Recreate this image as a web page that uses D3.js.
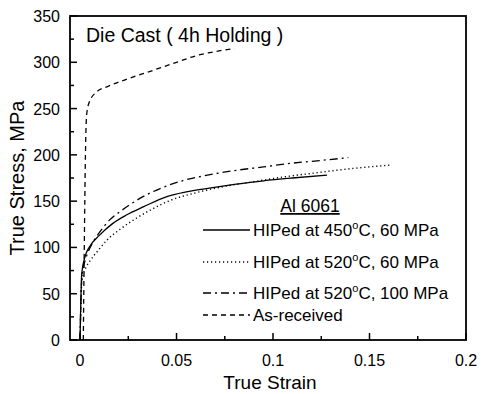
<!DOCTYPE html>
<html>
<head>
<meta charset="utf-8">
<script src="https://cdn.jsdelivr.net/npm/d3@7"></script>
<style>
  body { margin: 0; background: #fff; }
  text { font-family: "Liberation Sans", Arial, sans-serif; fill: #000; }
</style>
</head>
<body>
<div id="vis"></div>
<script>
// curve data (true strain, true stress in MPa)
const strain450 = [0, 0.0009, 0.0026, 0.005, 0.010, 0.017, 0.024, 0.033, 0.045, 0.055, 0.067, 0.080, 0.095, 0.110, 0.128]
const stress450 = [0, 72, 90, 101, 113, 126, 135, 144, 155, 160, 164, 168, 172, 175, 178]

const strain520a = [0, 0.001, 0.003, 0.005, 0.0095, 0.014, 0.021, 0.028, 0.037, 0.047, 0.060, 0.075, 0.090, 0.105, 0.120, 0.140, 0.161]
const stress520a = [0, 65, 78, 85, 97, 108, 120, 130, 141, 151, 159, 166, 171, 176, 180, 185, 189]

const strain520b = [0, 0.001, 0.003, 0.006, 0.010, 0.0155, 0.0216, 0.031, 0.042, 0.053, 0.066, 0.080, 0.095, 0.110, 0.125, 0.139]
const stress520b = [0, 70, 88, 103, 116, 130, 140, 153, 164, 172, 178, 183, 187, 191, 194, 197]

const strainAsRec = [0.0017, 0.0022, 0.0028, 0.0034, 0.0048, 0.0086, 0.0145, 0.026, 0.036, 0.050, 0.060, 0.074, 0.080]
const stressAsRec = [0, 100, 200, 243, 257, 268, 274, 283, 290, 300, 307, 313, 315]

const xTicks = [0, 0.05, 0.1, 0.15, 0.2]
const yTicks = [0, 50, 100, 150, 200, 250, 300, 350]

const seriesNames = ["HIPed at 450|C, 60 MPa", "HIPed at 520|C, 60 MPa", "HIPed at 520|C, 100 MPa", "As-received"]
const dashes = [null, "1.2,2.8", "8,4,2,4", "5,4"]

let width = 484, height = 394
let margins = { top: 16, right: 18, bottom: 54, left: 70 }
let visWidth = width - margins.left - margins.right
let visHeight = height - margins.top - margins.bottom

let svg = d3.select("#vis").append("svg").attr("width", width).attr("height", height)
let viewport = svg.append("g").attr("transform", "translate(" + margins.left + "," + margins.top + ")")

const xScale = d3.scaleLinear().domain([-0.0052, 0.2]).range([0, visWidth])
const yScale = d3.scaleLinear().domain([0, 350]).range([visHeight, 0])

// box
viewport.append("rect").attr("width", visWidth).attr("height", visHeight)
    .attr("fill", "none").attr("stroke", "#000").attr("stroke-width", 1.8)

// x ticks (inward) + minor
viewport.append("g").selectAll("line")
    .data(d3.range(0, 0.2001, 0.025))
    .enter().append("line")
    .attr("x1", d => xScale(d)).attr("x2", d => xScale(d))
    .attr("y1", visHeight)
    .attr("y2", (d, i) => visHeight - (i % 2 == 0 ? 7 : 4))
    .attr("stroke", "#000").attr("stroke-width", 1.5)

viewport.append("g").selectAll("text")
    .data(xTicks)
    .enter().append("text")
    .attr("x", d => xScale(d)).attr("y", visHeight + 26)
    .attr("text-anchor", "middle").style("font-size", "16px")
    .text(d => d)

// y ticks (inward) + minor
viewport.append("g").selectAll("line")
    .data(d3.range(0, 351, 25))
    .enter().append("line")
    .attr("y1", d => yScale(d)).attr("y2", d => yScale(d))
    .attr("x1", 0)
    .attr("x2", (d, i) => (i % 2 == 0 ? 7 : 4))
    .attr("stroke", "#000").attr("stroke-width", 1.5)

viewport.append("g").selectAll("text")
    .data(yTicks)
    .enter().append("text")
    .attr("x", -10).attr("y", d => yScale(d) + 6)
    .attr("text-anchor", "end").style("font-size", "16px")
    .text(d => d)

// axis titles
svg.append("text").attr("x", 270).attr("y", 389)
    .attr("text-anchor", "middle").style("font-size", "19px").text("True Strain")
svg.append("text").attr("transform", "translate(24,178) rotate(-90)")
    .attr("text-anchor", "middle").style("font-size", "20px").text("True Stress, MPa")

// title in plot
svg.append("text").attr("x", 86).attr("y", 42).style("font-size", "19.5px").text("Die Cast ( 4h Holding )")

// curves
const curves = [
    [strain450, stress450],
    [strain520a, stress520a],
    [strain520b, stress520b],
    [strainAsRec, stressAsRec]
]
const line = d3.line().x(d => xScale(d[0])).y(d => yScale(d[1])).curve(d3.curveMonotoneX)

viewport.append("g").selectAll("path")
    .data(curves)
    .enter().append("path")
    .attr("d", d => line(d[0].map((s, i) => [s, d[1][i]])))
    .attr("fill", "none").attr("stroke", "#000")
    .attr("stroke-width", (d, i) => i == 1 ? 1.4 : 1.3)
    .attr("stroke-dasharray", (d, i) => dashes[i])

// legend
svg.append("text").attr("x", 310).attr("y", 212).attr("text-anchor", "middle")
    .style("font-size", "17.5px").style("text-decoration", "underline").text("Al 6061")

const legendY = [230, 262, 293, 315]
const legend = svg.append("g").selectAll("g")
    .data(seriesNames)
    .enter().append("g")
    .attr("transform", (d, i) => "translate(0," + legendY[i] + ")")

legend.append("line").attr("x1", 203).attr("x2", 250).attr("y1", 0).attr("y2", 0)
    .attr("stroke", "#000").attr("stroke-width", (d, i) => i == 1 ? 1.4 : 1.3)
    .attr("stroke-dasharray", (d, i) => dashes[i])

let lt = legend.append("text").attr("x", 253).attr("y", 6).style("font-size", "17px")
lt.each(function (d) {
    let parts = d.split("|")
    let t = d3.select(this)
    t.append("tspan").text(parts[0])
    if (parts.length > 1) {
        t.append("tspan").attr("dy", -7).style("font-size", "11px").text("o")
        t.append("tspan").attr("dy", 7).text(parts[1])
    }
})
</script>
</body>
</html>
